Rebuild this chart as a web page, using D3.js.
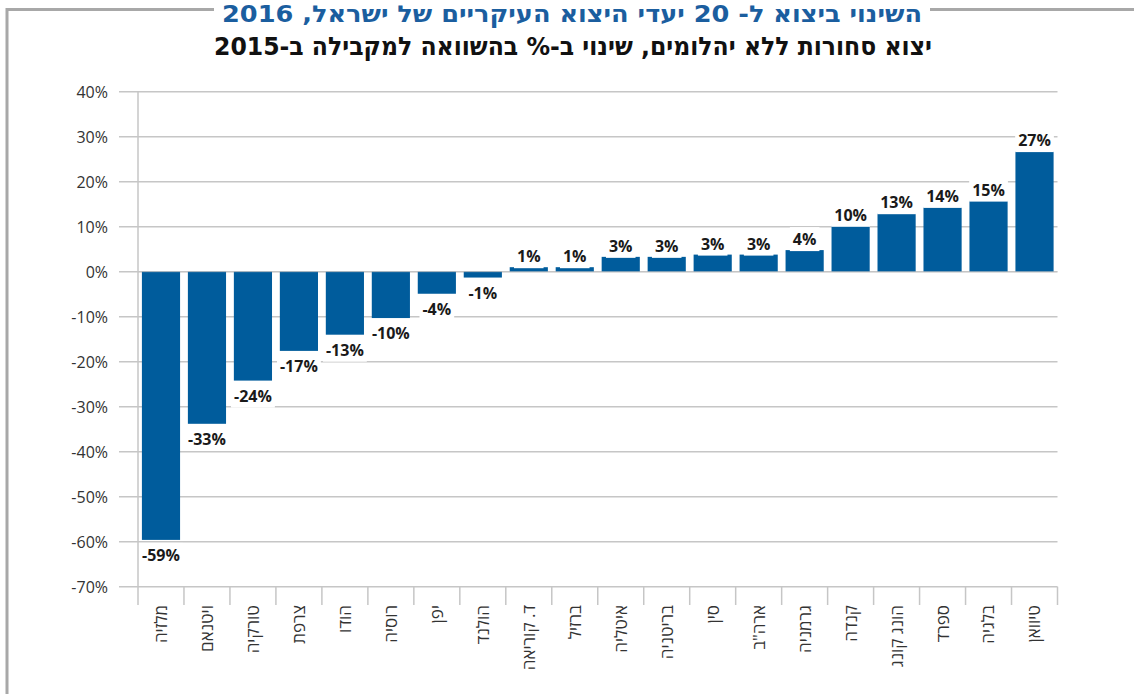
<!DOCTYPE html>
<html lang="he">
<head>
<meta charset="utf-8">
<script src="https://cdn.jsdelivr.net/npm/d3@7"></script>
<style>
  html, body { margin: 0; padding: 0; background: #fff; }
  svg { display: block; }
</style>
</head>
<body>
<svg id="chart" width="1134" height="694"></svg>
<script>
// ---- data ----
const categories = ["מלזיה","ויטנאם","טורקיה","צרפת","הודו","רוסיה","יפן","הולנד","ד. קוריאה","ברזיל","איטליה","בריטניה","סין","ארה\"ב","גרמניה","קנדה","הונג קונג","ספרד","בלגיה","טיוואן"];
const values = [-59.6, -33.8, -24.2, -17.6, -14.0, -10.3, -4.9, -1.3, 1.0, 1.0, 3.3, 3.3, 3.8, 3.8, 4.8, 10.2, 13.0, 14.4, 15.8, 26.8];
const valueLabels = ["-59%","-33%","-24%","-17%","-13%","-10%","-4%","-1%","1%","1%","3%","3%","3%","3%","4%","10%","13%","14%","15%","27%"];
const yTicks = [40, 30, 20, 10, 0, -10, -20, -30, -40, -50, -60, -70];
const titleText = "השינוי ביצוא ל- 20 יעדי היצוא העיקריים של ישראל, 2016";
const subtitleText = "יצוא סחורות ללא יהלומים, שינוי ב-% בהשוואה למקבילה ב-2015";

const svg = d3.select("#chart");
const gridColor = "#c6c6c6";
const barColor = "#005c9c";

const x = d3.scaleBand().domain(categories).range([138, 1057.5]).paddingInner(0.17).paddingOuter(0.085);
const y = d3.scaleLinear().domain([-70, 40]).range([586.7, 91.7]);

// frame
const frame = svg.append("g").attr("stroke", "#a8a8a8").attr("stroke-width", 3).attr("fill", "none");
frame.append("path").attr("d", "M7,694 L7,9.5 L214,9.5");
frame.append("path").attr("d", "M930,9.5 L1134,9.5");

// titles
svg.append("text")
  .attr("x", 572).attr("y", 22)
  .attr("text-anchor", "middle")
  .attr("font-family", "'DejaVu Sans Condensed', 'DejaVu Sans', sans-serif")
  .attr("font-weight", "bold")
  .attr("font-size", 23)
  .attr("fill", "#1b5e9f")
  .attr("textLength", 700).attr("lengthAdjust", "spacingAndGlyphs")
  .text(titleText);

svg.append("text")
  .attr("x", 573).attr("y", 55)
  .attr("text-anchor", "middle")
  .attr("font-family", "'DejaVu Sans Condensed', 'DejaVu Sans', sans-serif")
  .attr("font-weight", "bold")
  .attr("font-size", 25)
  .attr("fill", "#111")
  .attr("textLength", 718).attr("lengthAdjust", "spacingAndGlyphs")
  .text(subtitleText);

// gridlines + y labels
const yAxis = d3.axisLeft(y).tickValues(yTicks).tickSize(0).tickFormat(d => d + "%");
const gy = svg.append("g").attr("transform", "translate(108,0)").call(yAxis);
gy.select(".domain").remove();
gy.selectAll("text")
  .attr("x", 0).attr("dy", "0.35em")
  .attr("font-family", "'Open Sans', sans-serif")
  .attr("font-size", 16)
  .attr("fill", "#333");

svg.append("g").selectAll("line").data(yTicks).join("line")
  .attr("x1", 119).attr("x2", 1057.5)
  .attr("y1", d => y(d)).attr("y2", d => y(d))
  .attr("stroke", gridColor).attr("stroke-width", 1.5);

// y axis line
svg.append("line")
  .attr("x1", 138).attr("x2", 138)
  .attr("y1", y(40)).attr("y2", 605)
  .attr("stroke", gridColor).attr("stroke-width", 1.5);

// x tick marks at band boundaries
const step = x.step();
const boundaries = d3.range(categories.length + 1).map(i => x.range()[0] + i * step);
svg.append("g").selectAll("line").data(boundaries.slice(1)).join("line")
  .attr("x1", d => d).attr("x2", d => d)
  .attr("y1", y(-70)).attr("y2", 605)
  .attr("stroke", gridColor).attr("stroke-width", 1.5);

// bars
svg.append("g").selectAll("rect").data(values).join("rect")
  .attr("x", (d, i) => x(categories[i]))
  .attr("width", x.bandwidth())
  .attr("y", d => y(Math.max(0, d)))
  .attr("height", d => Math.abs(y(d) - y(0)))
  .attr("fill", barColor);

// zero line over bars (light)
svg.append("line")
  .attr("x1", 138).attr("x2", 1057.5)
  .attr("y1", y(0)).attr("y2", y(0))
  .attr("stroke", gridColor).attr("stroke-width", 1).attr("opacity", 0.6);

// value labels with white background
const lg = svg.append("g");
values.forEach((v, i) => {
  const cx = x(categories[i]) + x.bandwidth() / 2;
  const by = v >= 0 ? y(v) - 5 : y(v) + 21;
  const t = lg.append("text")
    .attr("x", cx).attr("y", by)
    .attr("text-anchor", "middle")
    .attr("font-family", "'Open Sans', sans-serif")
    .attr("font-weight", "bold")
    .attr("font-size", 16)
    .attr("fill", "#1a1a1a")
    .text(valueLabels[i]);
  const bb = t.node().getBBox();
  lg.insert("rect", "text")
    .attr("x", bb.x - 3).attr("y", bb.y - 1)
    .attr("width", bb.width + 6).attr("height", bb.height + 2)
    .attr("fill", "#fff");
});

// x category labels (rotated)
svg.append("g").selectAll("text").data(categories).join("text")
  .attr("transform", d => `translate(${x(d) + x.bandwidth() / 2},605) rotate(-90)`)
  .attr("dy", "0.35em")
  .attr("text-anchor", "end")
  .attr("font-family", "'Open Sans', 'DejaVu Sans', sans-serif")
  .attr("font-size", 17)
  .attr("fill", "#333")
  .text(d => d);
</script>
</body>
</html>
